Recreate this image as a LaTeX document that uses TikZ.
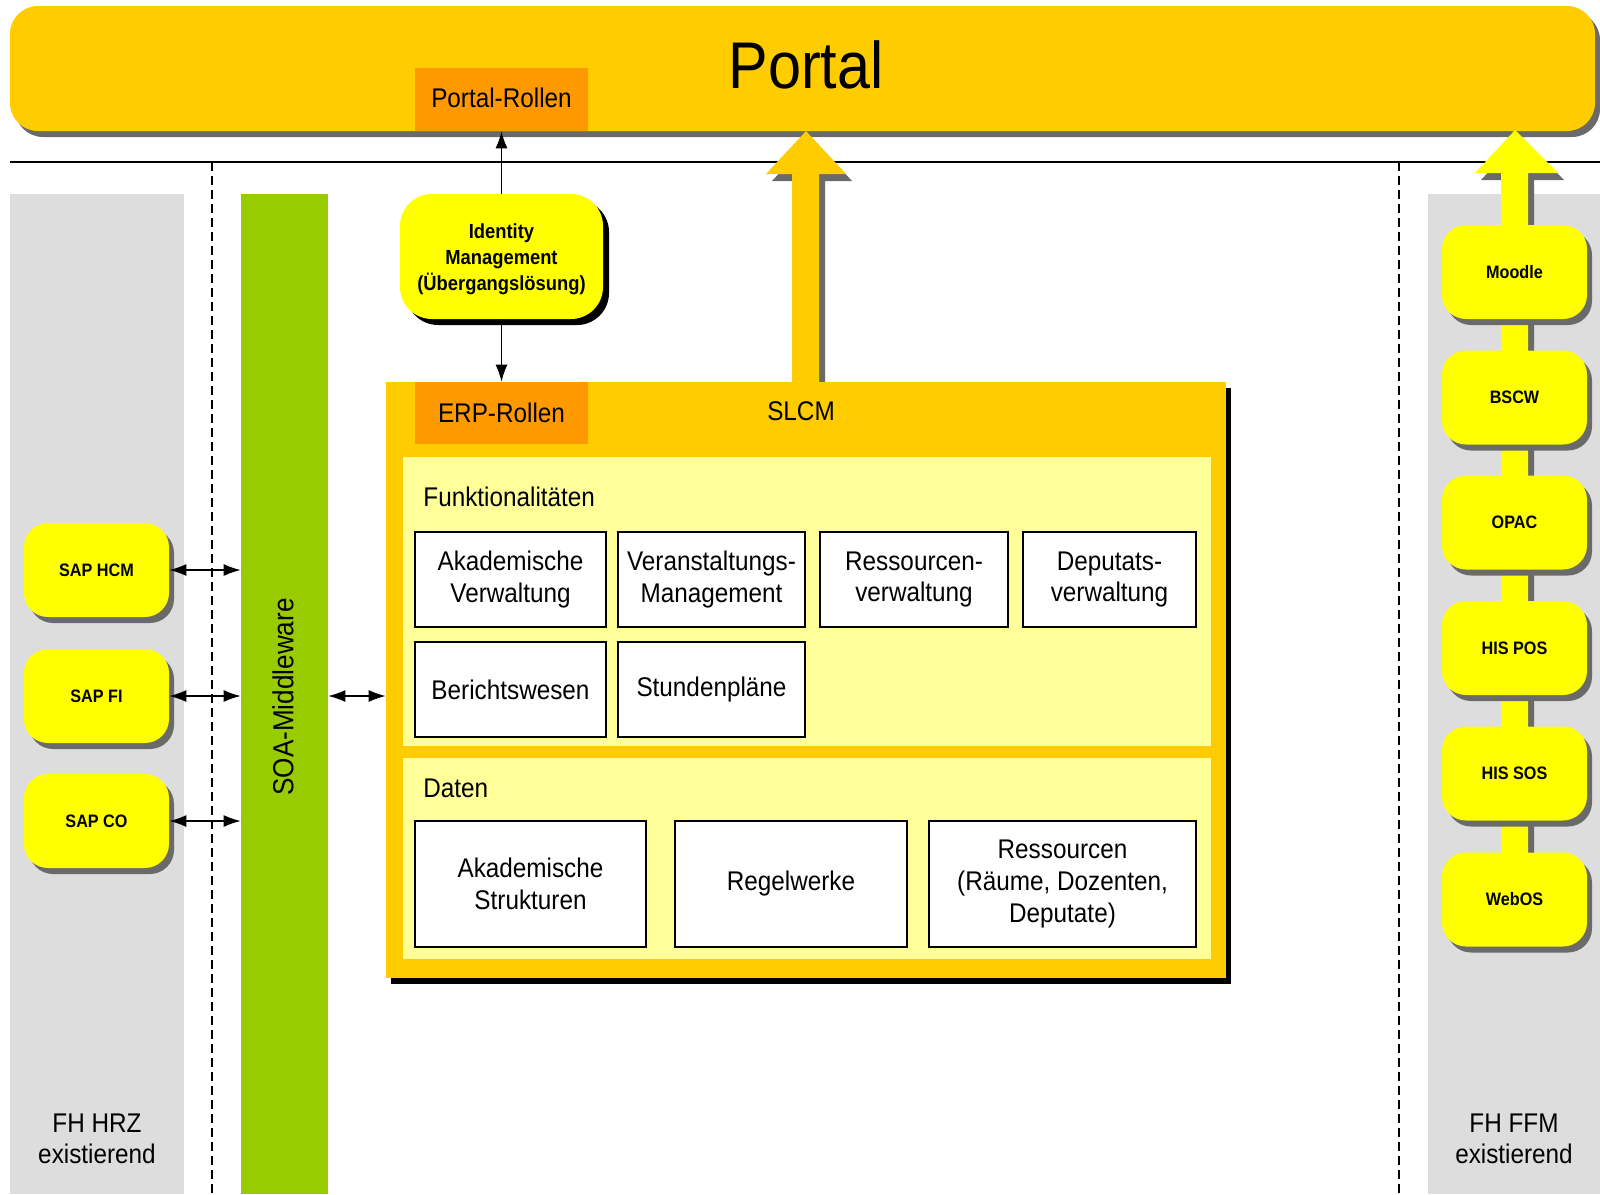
\documentclass[tikz,border=0pt]{standalone}
\usepackage{fontspec}
\setmainfont{Liberation Sans}[FakeStretch=0.9]
\usetikzlibrary{arrows.meta,shadows}
\definecolor{portalc}{HTML}{FFCC00}
\definecolor{orangec}{HTML}{FF9900}
\definecolor{yelc}{HTML}{FFFF00}
\definecolor{lightyel}{HTML}{FFFF99}
\definecolor{grayc}{HTML}{DDDDDD}
\definecolor{greenc}{HTML}{99CC00}
\definecolor{shadowc}{HTML}{6A6A6A}
\tikzset{
  sysbox/.style={rounded corners=12pt, fill=yelc, minimum width=72.5pt, minimum height=47pt,
    inner sep=0pt, font=\bfseries\fontsize{9}{11}\selectfont,
    drop shadow={shadow xshift=2.5pt, shadow yshift=-3pt, fill=shadowc, opacity=1}},
  rolebox/.style={fill=orangec, minimum width=86.5pt, inner sep=0pt, font=\fontsize{13.5}{15.8}\selectfont},
  funcbox/.style={draw=black, line width=0.7pt, fill=white, inner sep=0pt, align=center,
    font=\fontsize{13.5}{15.8}\selectfont},
  panel/.style={fill=lightyel, inner sep=0pt, minimum width=404pt},
  lbl/.style={inner sep=0pt, font=\fontsize{13.5}{15.8}\selectfont, align=center},
  dashline/.style={line width=0.7pt, dash pattern=on 4.5pt off 2.5pt},
  thinarrow/.style={line width=0.6pt, -{Latex[length=8.5pt,width=6pt]}},
  duoarrow/.style={line width=0.6pt, {Latex[length=8.5pt,width=6pt]}-{Latex[length=8.5pt,width=6pt]}},
}
\begin{document}
\begin{tikzpicture}[x=0.5pt,y=-0.5pt]
\useasboundingbox (0,0) rectangle (1600,1194);
% background panels
\fill[grayc] (10,194) rectangle (184,1194);
\fill[grayc] (1428,194) rectangle (1600,1194);
\node[fill=greenc, minimum width=43.5pt, minimum height=500pt, inner sep=0pt] (soa) at (284.5,694) {};
\node[rotate=90, inner sep=0pt, font=\fontsize{14.5}{16}\selectfont] (soatext) at (283,697) {SOA-Middleware};
% separator lines
\draw[dashline] (212,162) -- (212,1194);
\draw[dashline] (1399,162) -- (1399,1194);
\draw[line width=0.9pt] (10,162) -- (1600,162);
% portal bar
\node[rounded corners=14pt, fill=portalc, minimum width=792.5pt, minimum height=62.5pt, inner sep=0pt,
  drop shadow={shadow xshift=2.5pt, shadow yshift=-3pt, fill=shadowc, opacity=1}] (portal) at (802.5,68.5) {};
\node[inner sep=0pt, font=\fontsize{33}{36}\selectfont] (portaltext) at (806,65) {Portal};
\node[rolebox, minimum height=31.5pt] (prollen) at (501.5,99.5) {};
\node[lbl] (prollentext) at (501.5,97.5) {Portal-Rollen};
% block arrows
\begin{scope}[shift={(6,7)}]
  \fill[shadowc] (792,382) -- (792,174) -- (766,174) -- (806,131) -- (846,174) -- (819,174) -- (819,382) -- cycle;
  \fill[shadowc] (1501,880) -- (1501,173) -- (1475,173) -- (1515,130) -- (1558,173) -- (1528,173) -- (1528,880) -- cycle;
\end{scope}
\fill[portalc] (792,382) -- (792,174) -- (766,174) -- (806,131) -- (846,174) -- (819,174) -- (819,382) -- cycle;
\fill[yelc] (1501,880) -- (1501,173) -- (1475,173) -- (1515,130) -- (1558,173) -- (1528,173) -- (1528,880) -- cycle;
% identity management
\node[rounded corners=16pt, fill=yelc, minimum width=101.5pt, minimum height=62.5pt, inner sep=0pt,
  drop shadow={shadow xshift=3pt, shadow yshift=-3pt, fill=black, opacity=1}] (idm) at (501.5,256.5) {};
\node[inner sep=0pt, align=center, font=\bfseries\fontsize{10.2}{13}\selectfont] (idmtext) at (501.5,259.5)
  {Identity\\Management\\(Übergangslösung)};
% SLCM
\node[fill=portalc, minimum width=420pt, minimum height=298pt, inner sep=0pt,
  drop shadow={shadow xshift=2.5pt, shadow yshift=-3pt, fill=black, opacity=1}] (slcm) at (806,680) {};
\node[rolebox, minimum height=31pt] (erp) at (501.5,413) {ERP-Rollen};
\node[lbl] (slcmtext) at (801,411) {SLCM};
\node[panel, minimum height=144.5pt] (funk) at (807,601.5) {};
\node[panel, minimum height=100.5pt] (daten) at (807,858.5) {};
\node[lbl, anchor=west] (funktext) at (423,497) {Funktionalitäten};
\node[lbl, anchor=west] (datentext) at (423,788) {Daten};
% function boxes
\node[funcbox, minimum width=95.5pt, minimum height=47.5pt] (f1) at (510.5,579.5) {Akademische\\Verwaltung};
\node[funcbox, minimum width=93.5pt, minimum height=47.5pt] (f2) at (711.5,579.5) {Veranstaltungs-\\Management};
\node[funcbox, minimum width=94pt, minimum height=47.5pt] (f3) at (914,579.5) {Ressourcen-\\verwaltung};
\node[funcbox, minimum width=86.5pt, minimum height=47.5pt] (f4) at (1109.5,579.5) {Deputats-\\verwaltung};
\node[funcbox, minimum width=95.5pt, minimum height=47.5pt] (f5) at (510.5,689.5) {Berichtswesen};
\node[funcbox, minimum width=93.5pt, minimum height=47.5pt] (f6) at (711.5,689.5) {Stundenpläne};
% data boxes
\node[funcbox, minimum width=115.5pt, minimum height=63pt] (d1) at (530.5,884) {Akademische\\Strukturen};
\node[funcbox, minimum width=116pt, minimum height=63pt] (d2) at (791,884) {Regelwerke};
\node[funcbox, minimum width=133.5pt, minimum height=63pt] (d3) at (1062.5,884) {Ressourcen\\(Räume, Dozenten,\\Deputate)};
% SAP systems
\node[sysbox] (hcm) at (96.5,570) {SAP HCM};
\node[sysbox] (fi) at (96.5,696) {SAP FI};
\node[sysbox] (co) at (96.5,821) {SAP CO};
% right systems
\node[sysbox] (moodle) at (1514.5,272) {Moodle};
\node[sysbox] (bscw) at (1514.5,397.5) {BSCW};
\node[sysbox] (opac) at (1514.5,522.5) {OPAC};
\node[sysbox] (hispos) at (1514.5,648) {HIS POS};
\node[sysbox] (hissos) at (1514.5,773.5) {HIS SOS};
\node[sysbox] (webos) at (1514.5,899.5) {WebOS};
% location labels
\node[lbl] (hrz) at (97,1139) {FH HRZ\\existierend};
\node[lbl] (ffm) at (1514,1139) {FH FFM\\existierend};
% thin connectors
\draw[thinarrow] (idm.north) -- (idm.north |- portal.south);
\draw[thinarrow] (idm.south) -- (erp.north);
\draw[duoarrow] (hcm.east) -- (hcm.east -| soa.west);
\draw[duoarrow] (fi.east) -- (fi.east -| soa.west);
\draw[duoarrow] (co.east) -- (co.east -| soa.west);
\draw[duoarrow] (soa.east |- fi.east) -- (slcm.west |- fi.east);
\end{tikzpicture}
\end{document}
